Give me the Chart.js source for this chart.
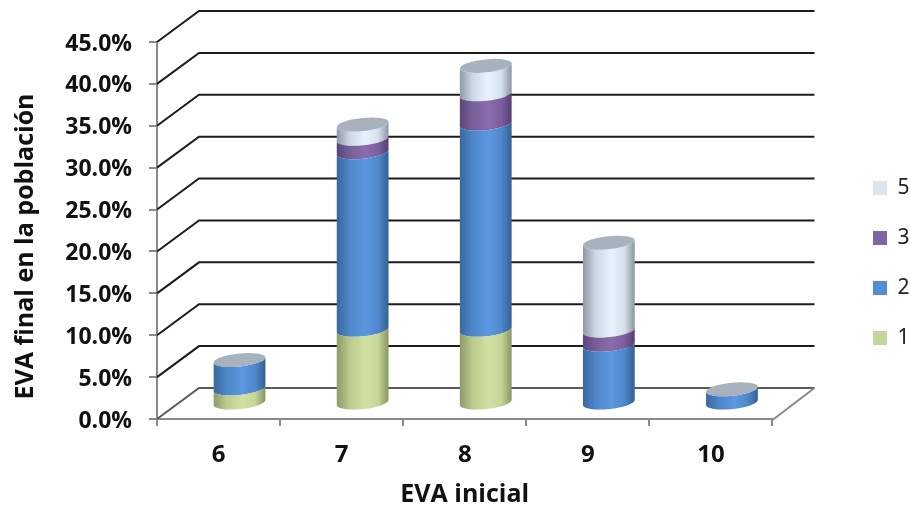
<!DOCTYPE html>
<html>
<head>
<meta charset="utf-8">
<title>EVA</title>
<script src="https://cdn.jsdelivr.net/npm/chart.js@4/dist/chart.umd.min.js"></script>
<style>
  html, body { margin: 0; padding: 0; background: #fff; }
  canvas { display: block; }
</style>
</head>
<body>
<canvas id="myChart" width="910" height="510"></canvas>
<script>
const categories = ["6", "7", "8", "9", "10"];
const serie1 = [1.8, 8.8, 8.8, 0, 0];
const serie2 = [3.4, 21.2, 24.6, 7.0, 1.7];
const serie3 = [0, 1.6, 3.5, 1.7, 0];
const serie5 = [0, 1.7, 3.4, 10.5, 0];

// depth of the floor and walls, in pixels
const depthX = 42;
const depthY = -31;
const capTilt = -6 * Math.PI / 180;
const capHeight = 6.5;

const sides = {
  "1": ["#8c9a68", "#bccb8f", "#d0e1a2", "#c5d698", "#87955f"],
  "2": ["#3a689f", "#4e86c8", "#5c97e0", "#4f88cc", "#355f92"],
  "3": ["#5a4679", "#775e98", "#8b6cae", "#7a5f9c", "#553f72"],
  "5": ["#8f99a5", "#cdd8e4", "#e9f3fd", "#d5e0ec", "#8a949f"]
};

// walls and grid lines behind the cylinders, hung on the y ticks
function drawWalls(chart) {
  const { ctx, chartArea, scales } = chart;
  const left = chartArea.left;
  const right = chartArea.right;
  ctx.save();
  ctx.lineWidth = 2;
  scales.y.ticks.forEach(t => {
    const y = scales.y.getPixelForValue(t.value);
    ctx.strokeStyle = t.value === 0 ? "#5a5a5a" : "#1c1c1c";
    ctx.beginPath();
    ctx.moveTo(left, y);
    ctx.lineTo(left + depthX, y + depthY);
    ctx.lineTo(right + depthX, y + depthY);
    ctx.stroke();
  });
  const y0 = scales.y.getPixelForValue(0);
  ctx.strokeStyle = "#8a8a8a";
  ctx.beginPath();
  ctx.moveTo(right, y0 + 1);
  ctx.lineTo(right + depthX, y0 + depthY);
  ctx.stroke();
  ctx.restore();
}

function drawSegment(chart, el, stops, isTop) {
  const ctx = chart.ctx;
  const p = el.getProps(["x", "y", "base", "width"], true);
  const cx = p.x + depthX / 2;
  const a = p.width / 2;
  const yTop = p.y + depthY / 2;
  const yBase = p.base + depthY / 2;

  const grad = ctx.createLinearGradient(cx - a, 0, cx + a, 0);
  const at = [0, 0.25, 0.55, 0.8, 1];
  stops.forEach((c, i) => grad.addColorStop(at[i], c));

  ctx.save();
  ctx.fillStyle = grad;
  ctx.beginPath();
  ctx.ellipse(cx, yBase, a, capHeight, capTilt, 0, Math.PI);
  ctx.ellipse(cx, yTop, a, capHeight, capTilt, Math.PI, 0, true);
  ctx.closePath();
  ctx.fill();
  if (isTop) {
    ctx.fillStyle = "#a7b2bc";
    ctx.beginPath();
    ctx.ellipse(cx, yTop, a, capHeight, capTilt, 0, Math.PI * 2);
    ctx.fill();
  }
  ctx.restore();
}

const cylinders = {
  id: "cylinders",
  afterLayout(chart) {
    // legend sits out past the right wall
    const l = chart.legend;
    const w = l.right - l.left;
    const h = l.bottom - l.top;
    l.left = 844;
    l.right = l.left + w;
    l.top -= 13;
    l.bottom = l.top + h;

    // axis title hangs a little lower than the middle of the axis
    const y = chart.scales.y;
    const drawTitle = y.drawTitle;
    y.drawTitle = function () {
      chart.ctx.save();
      chart.ctx.translate(0, 16);
      drawTitle.call(this);
      chart.ctx.restore();
    };
  },
  beforeDatasetsDraw(chart) {
    drawWalls(chart);
  },
  beforeDatasetDraw(chart, args) {
    const datasets = chart.data.datasets;
    const meta = args.meta;
    meta.data.forEach((el, i) => {
      if (!datasets[args.index].data[i]) return;
      let isTop = true;
      for (let k = args.index + 1; k < datasets.length; k++) {
        if (datasets[k].data[i]) isTop = false;
      }
      drawSegment(chart, el, sides[datasets[args.index].label], isTop);
    });
    return false;
  }
};

new Chart(document.getElementById("myChart"), {
  type: "bar",
  data: {
    labels: categories,
    datasets: [
      { label: "1", data: serie1, backgroundColor: "#c3d69b" },
      { label: "2", data: serie2, backgroundColor: "#558ed5" },
      { label: "3", data: serie3, backgroundColor: "#8064a2" },
      { label: "5", data: serie5, backgroundColor: "#dce6f2" }
    ]
  },
  plugins: [cylinders],
  options: {
    responsive: false,
    animation: false,
    barPercentage: 0.423,
    categoryPercentage: 1,
    layout: { padding: { top: 42, right: 62 } },
    plugins: {
      tooltip: { enabled: false },
      legend: {
        position: "right",
        reverse: true,
        labels: {
          boxWidth: 14,
          boxHeight: 14,
          padding: 29,
          color: "#222",
          font: { family: "Noto Sans", size: 21 }
        }
      }
    },
    scales: {
      x: {
        stacked: true,
        afterFit: s => { s.height = 91; },
        border: { color: "#8a8a8a", width: 2 },
        grid: { drawOnChartArea: false, tickLength: 7, color: "#8a8a8a", lineWidth: 2 },
        ticks: { color: "#111", padding: 15, font: { family: "Open Sans", weight: "bold", size: 24 } },
        title: {
          display: true,
          text: "EVA inicial",
          color: "#111",
          padding: { top: 6, bottom: 0 },
          font: { family: "Open Sans", weight: "bold", size: 25 }
        }
      },
      y: {
        stacked: true,
        min: 0,
        max: 45,
        afterFit: s => { s.width = 157; },
        border: { color: "#8a8a8a", width: 2 },
        grid: { drawOnChartArea: false, tickLength: 8, color: "#8a8a8a", lineWidth: 2 },
        ticks: {
          stepSize: 5,
          color: "#111",
          padding: 17,
          labelOffset: 2,
          font: { family: "Open Sans", weight: "bold", size: 23 },
          callback: v => v.toFixed(1) + "%"
        },
        title: {
          display: true,
          text: "EVA final en la población",
          color: "#111",
          padding: { top: 11, bottom: 0 },
          font: { family: "Open Sans", weight: "bold", size: 25 }
        }
      }
    }
  }
});
</script>
</body>
</html>
